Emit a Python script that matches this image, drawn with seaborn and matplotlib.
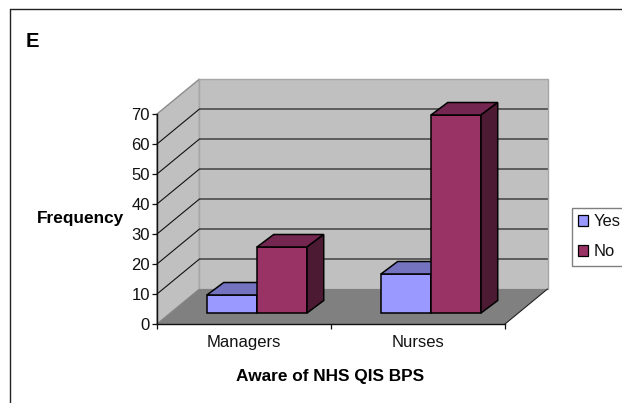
import matplotlib
matplotlib.use("Agg")
import matplotlib.pyplot as plt
from matplotlib.lines import Line2D
from matplotlib.patches import Polygon, Patch
import pandas
import seaborn

# values
groups = ["Managers", "Nurses"]
answers = ["Yes", "No"]
yes_counts = [6, 13]
no_counts = [22, 66]
y_ticks = [0, 10, 20, 30, 40, 50, 60, 70]

front_colors = {"Yes": "#9999FF", "No": "#993366"}
top_colors = {"Yes": "#7373BF", "No": "#732650"}
side_colors = {"Yes": "#4D4D80", "No": "#4D1A33"}

W, H = 622, 403

seaborn.set_theme(style="white")
plt.rcParams["font.family"] = ["Liberation Sans", "DejaVu Sans"]

df = pandas.DataFrame({
    "group": groups * 2,
    "answer": [answers[0]] * 2 + [answers[1]] * 2,
    "count": yes_counts + no_counts,
})

fig = plt.figure(figsize=(W / 100, H / 100), dpi=100)
ax = fig.add_axes([157 / W, (H - 324) / H, 348 / W, 210 / H])

seaborn.barplot(data=df, x="group", y="count", hue="answer", hue_order=answers,
                palette=front_colors, saturation=1, width=0.575, gap=0,
                edgecolor="black", linewidth=1.1, legend=False, ax=ax)

ax.set_xlim(-0.5, 1.5)
ax.set_ylim(0, 70)

# depth of the fake 3d box, in data units (174 px per group, 3 px per count)
wall_dx = 42.5 / 174
wall_dy = 35 / 3
bar_off_x = 13 / 174
bar_off_y = 11 / 3
bar_dx = 16.7 / 174
bar_dy = 12.5 / 3

# walls and floor
x0, x1 = ax.get_xlim()
ax.add_patch(Polygon([(x0, 0), (x0 + wall_dx, wall_dy), (x0 + wall_dx, 70 + wall_dy), (x0, 70)],
                     facecolor="#C0C0C0", edgecolor="#8C8C8C", lw=1, zorder=0.5, clip_on=False))
ax.add_patch(Polygon([(x0 + wall_dx, wall_dy), (x1 + wall_dx, wall_dy), (x1 + wall_dx, 70 + wall_dy), (x0 + wall_dx, 70 + wall_dy)],
                     facecolor="#C0C0C0", edgecolor="#A6A6A6", lw=1, zorder=0.5, clip_on=False))
ax.add_patch(Polygon([(x0, 0), (x1, 0), (x1 + wall_dx, wall_dy), (x0 + wall_dx, wall_dy)],
                     facecolor="#808080", edgecolor="none", zorder=0.7, clip_on=False))
ax.plot([x1, x1 + wall_dx], [0, wall_dy], color="#222222", lw=0.8, zorder=0.8, clip_on=False)

# gridlines run along the side wall then the back wall
for t in y_ticks[1:-1]:
    ax.plot([x0, x0 + wall_dx, x1 + wall_dx], [t, t + wall_dy, t + wall_dy],
            color="#111111", lw=0.8, zorder=0.6, clip_on=False)

# push the bars back from the front edge and give them a top and a side
for z, (answer, container) in enumerate(zip(answers, ax.containers)):
    for bar in container:
        bar.set_x(bar.get_x() + bar_off_x)
        bar.set_y(bar_off_y)
        bar.set_zorder(3 + z)
        bar.set_clip_on(False)
        left = bar.get_x()
        right = left + bar.get_width()
        bottom = bar.get_y()
        top = bottom + bar.get_height()
        ax.add_patch(Polygon([(left, top), (right, top), (right + bar_dx, top + bar_dy), (left + bar_dx, top + bar_dy)],
                             facecolor=top_colors[answer], edgecolor="black", lw=1.1, zorder=3 + z, clip_on=False))
        ax.add_patch(Polygon([(right, bottom), (right + bar_dx, bottom + bar_dy), (right + bar_dx, top + bar_dy), (right, top)],
                             facecolor=side_colors[answer], edgecolor="black", lw=1.1, zorder=3 + z, clip_on=False))

# axes
ax.patch.set_visible(False)
seaborn.despine(ax=ax)
for s in ["left", "bottom"]:
    ax.spines[s].set_color("#111111")
    ax.spines[s].set_linewidth(1)
ax.set_yticks(y_ticks)
ax.set_xticks([0, 1], groups)
ax.set_xticks([-0.5, 0.5, 1.5], minor=True)
ax.tick_params(axis="y", left=True, length=3.6, width=0.9, pad=1.5, labelsize=12, color="#111111", labelcolor="#111111")
ax.tick_params(axis="x", which="major", bottom=False, length=0, pad=8, labelsize=12, labelcolor="#111111")
ax.tick_params(axis="x", which="minor", bottom=True, length=3.6, width=0.9, color="#111111")
ax.set_xlabel("")
ax.set_ylabel("")

fig.text(81 / W, 1 - 219 / H, "Frequency", fontsize=12.4, fontweight="bold", ha="center", va="center", color="black")
fig.text(330 / W, 1 - 376 / H, "Aware of NHS QIS BPS", fontsize=12.4, fontweight="bold", ha="center", va="center", color="black")
fig.text(26 / W, 1 - 47 / H, "E", fontsize=14.5, fontweight="bold", ha="left", va="baseline", color="black")

# legend reaches the right side of the picture
handles = [Patch(facecolor=front_colors[a], edgecolor="black", lw=0.9, label=a) for a in answers]
fig.legend(handles=handles, loc="upper left", bbox_to_anchor=(572 / W, 1 - 208 / H), frameon=True, fancybox=False,
           edgecolor="#808080", facecolor="white", framealpha=1, fontsize=11.9, handlelength=0.6, handleheight=0.6,
           handletextpad=0.3, labelspacing=0.92, borderpad=0.38, borderaxespad=0, labelcolor="#111111")

# chart frame, only left and top are inside the picture
fig.add_artist(Line2D([10 / W, 10 / W], [0, 1 - 9 / H], color="#222222", lw=1))
fig.add_artist(Line2D([10 / W, 1], [1 - 9 / H, 1 - 9 / H], color="#222222", lw=1))

fig.savefig("out.png", dpi=100)
